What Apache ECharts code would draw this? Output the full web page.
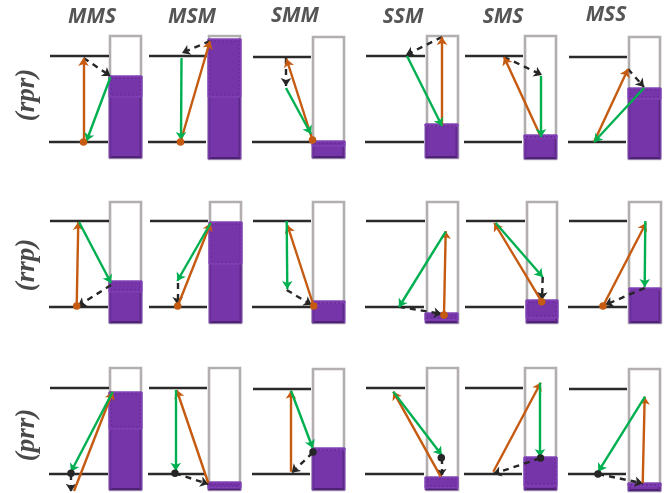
<!DOCTYPE html>
<html><head><meta charset="utf-8">
<style>html,body{margin:0;padding:0;background:#fff}#c{width:669px;height:493px}</style>
<script src="https://cdn.jsdelivr.net/npm/echarts@6/dist/echarts.min.js"></script>
</head><body><div id="c"></div>
<script>
const columnLabels=[['MMS',92,17],['MSM',192,17],['SMM',295,16],['SSM',403,17],['SMS',503,17],['MSS',606,15]];
const rowLabels=[['(rpr)',27,95],['(rrp)',27,265],['(prr)',27,435]];
// energy levels: x0,x1,y
const levels=[
[50,109,56],[49,108,142],[149,207,56],[148,206,142],[253,311,56.7],[252,311,142],[366,425,56],[365,424,141.5],[465,523,56],[464,522,141.5],[569,627,56.7],[568,626,142],
[50,109,221],[49,108,306.7],[150,208,221],[149,207,306.7],[253,311,221],[252,311,306.7],[366,425,221],[365,424,306.7],[466,525,221],[465,524,306.7],[569,627,221],[568,627,306.7],
[50,109,387.7],[49,108,473.3],[149,207,387.7],[148,206,473.3],[253,311,388.7],[252,310,474],[366,425,387.7],[365,424,473.3],[465,523,387.7],[464,522,473.3],[569,627,388.7],[568,626,474]];
// wells: x0,x1,top,bottom
const wells=[
[110,141,36,158],[209,240,36,159],[313,344,37,158],[427,458,36,158],[525,556,36,159],[629,660,37,159],
[110,141,202,323],[210,241,202,323],[313,344,202,323],[427,458,202,323],[527,557,202,323],[629,661,202,323],
[110,141,368,490],[209,240,368,490],[313,344,369,490],[427,458,368,490],[525,556,368,490],[629,660,369,491]];
// fills: x0,x1,top,bottom,bandBottom
const fills=[
[109,142,76,158,97],[208,241,39,159,97],[312,345,141,158,146],[425,458,124,158,126],[524,557,135,159,138],[628,661,88,159,99],
[109,142,281,323,292],[209,242,222,323,264],[312,345,301,323,303],[425,458,313,323,320],[526,558,300,323,318],[629,661,288,323,290],
[109,142,392,490,429],[208,241,482,490,488],[312,345,448,490,450],[425,458,477,490,488],[524,557,457,490,486],[628,661,483,491,486]];
const orangeArrows=[
[83.5,142,83.5,58],[180.5,142,210,41],[312.5,140,286.5,59],[442,126,442,37],[540,135,504,57],[594,142,628,69],
[76.7,306,78.3,222],[177.7,306,210.7,223],[313.7,306,287.3,225],[444,315,445.7,231],[541.7,301.7,494.3,223],[603,306,646,223],
[74,491,112.7,391.7],[208.3,483,176.7,390],[291,471.7,291,390.7],[440.7,476.7,393.3,391.7],[493.3,471.7,540.7,382.7],[642.7,483,644.7,396.7]];
const greenArrows=[
[110.5,77,86.5,141],[181.5,58,181,140],[286,88,311,134],[407,56,442,126],[541,76,541,137],[644,88,594,142],
[79,222,111,283],[210.7,223,177.3,281],[286.7,221,287.3,289],[445.7,231.7,399,307],[495.7,223,542.7,277],[645.3,221,644.7,287],
[112.7,391.7,71,471.7],[175.7,390,175.7,470.7],[291,390.7,312.7,448],[393.3,391.7,441.7,455],[540,382.7,540,457],[645,396.7,598.3,471.7]];
const dashedArrows=[
[83.5,58,110.5,76],[210,41,182,53],[286,58,286,86],[442,37,406,55],[504,57,542,75],[628,69,644,87],
[111,285,78,306],[177.7,283,177.7,305],[286.7,290,311.7,305],[399,306.7,441.7,314],[542.7,277,542,300],[644.7,288,605,305],
[71,474,71,491.7],[175,473.3,208.3,484],[312.7,452.7,291.7,472.7],[441.3,458,441.3,476.7],[540,458.3,493.3,474],[598.3,474,642.7,483.3]];
const orangeDots=[[83.5,142],[180.5,142],[312.5,140],[76.7,306],[177.7,306],[313.7,306],[444,315],[541.7,301.7],[603,306]];
const blackDots=[[71,473.3],[175,473.3],[313,452],[441.3,457.7],[540.5,458],[598,474]];

const toLines=a=>a.map(d=>({coords:[[d[0],d[1]],[d[2],d[3]]]}));
const arrowSeries=(a,color,type,z)=>({type:'lines',coordinateSystem:'cartesian2d',polyline:false,z,silent:true,
  symbol:['none','arrow'],symbolSize:8,
  lineStyle:{color,width:2.4,opacity:1,type,curveness:0},data:toLines(a)});
const textSeries=(a,font,rotate)=>({type:'scatter',symbolSize:0,silent:true,z:9,
  data:a.map(d=>({value:[d[1],d[2]],name:d[0]})),
  label:{show:true,position:'inside',formatter:p=>p.name,rotate,...font}});

const chart=echarts.init(document.getElementById('c'),null,{renderer:'canvas'});
chart.setOption({
  animation:false,
  grid:{left:0,right:0,top:0,bottom:0},
  xAxis:{type:'value',min:0,max:669,show:false},
  yAxis:{type:'value',min:0,max:493,inverse:true,show:false},
  series:[
    {type:'custom',z:1,silent:true,data:wells,encode:{x:[0,1],y:[2,3]},
     renderItem:(p,api)=>{const a=api.coord([api.value(0),api.value(2)]),b=api.coord([api.value(1),api.value(3)]);
       return {type:'rect',shape:{x:a[0],y:a[1],width:b[0]-a[0],height:b[1]-a[1]},style:{fill:'#fff',stroke:'#B3AFAF',lineWidth:2.6}};}},
    {type:'custom',z:2,silent:true,data:fills,encode:{x:[0,1],y:[2,3]},
     renderItem:(p,api)=>{const a=api.coord([api.value(0),api.value(2)]),b=api.coord([api.value(1),api.value(3)]),c=api.coord([api.value(0),api.value(4)]);
       const w=b[0]-a[0],h=b[1]-a[1],bh=c[1]-a[1];
       return {type:'group',children:[
         {type:'rect',shape:{x:a[0],y:a[1],width:w,height:h},style:{fill:'#7635A9',stroke:'#7A4AA6',lineWidth:1}},
         {type:'rect',shape:{x:a[0]+1,y:b[1]-2,width:w-2,height:2},style:{fill:'#4E2374'}},
         {type:'rect',shape:{x:a[0]+1,y:a[1]+1,width:1.5,height:h-2},style:{fill:'#6A2E9A'}},
         {type:'rect',shape:{x:b[0]-2.5,y:a[1]+1,width:1.5,height:h-2},style:{fill:'#5E2988'}},
         {type:'rect',shape:{x:a[0],y:a[1],width:w,height:bh},style:{fill:'#7A38AE',stroke:'#8445B8',lineWidth:1}},
         {type:'rect',shape:{x:a[0]+2,y:a[1]+2,width:w-4,height:Math.max(0,bh-4)},style:{fill:'#7635A9',stroke:'#5E2A8A',lineWidth:0.7,lineDash:[2,2]}}
       ]};}},
    {type:'lines',coordinateSystem:'cartesian2d',z:3,silent:true,symbol:'none',
     lineStyle:{color:'#2a2a2a',width:2.4,opacity:1},
     data:levels.map(d=>({coords:[[d[0],d[2]],[d[1],d[2]]]}))},
    arrowSeries(dashedArrows,'#262626',[6,5],4),
    arrowSeries(orangeArrows,'#C55A11','solid',5),
    arrowSeries(greenArrows,'#00B050','solid',6),
    {type:'scatter',z:7,silent:true,symbolSize:7.5,itemStyle:{color:'#C55A11',opacity:1},data:orangeDots},
    {type:'scatter',z:7,silent:true,symbolSize:7.5,itemStyle:{color:'#262626',opacity:1},data:blackDots},
    textSeries(columnLabels,{color:'#2b2b2b',fontFamily:'Open Sans',fontWeight:'bold',fontStyle:'italic',fontSize:21},0),
    textSeries(rowLabels,{color:'#1c1c1c',fontFamily:'Liberation Serif',fontWeight:'bold',fontStyle:'italic',fontSize:27},90)
  ]
});
</script></body></html>
